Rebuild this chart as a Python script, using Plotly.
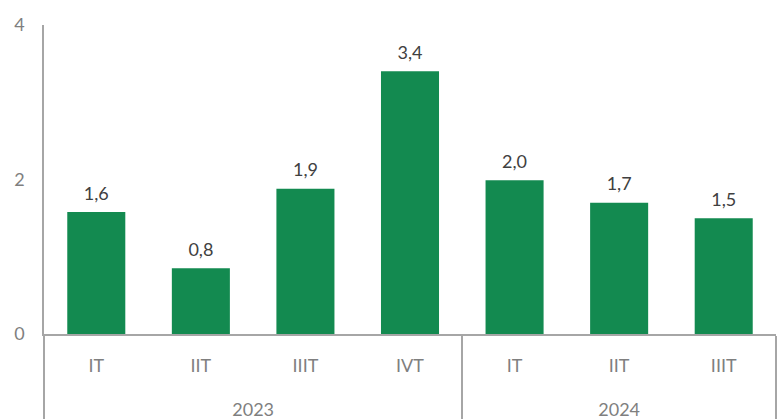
import plotly.graph_objects as go

years = ["2023", "2023", "2023", "2023", "2024", "2024", "2024"]
quarters = ["IT", "IIT", "IIIT", "IVT", "IT", "IIT", "IIIT"]
values = [1.58, 0.85, 1.88, 3.4, 1.99, 1.7, 1.5]
labels = ["1,6", "0,8", "1,9", "3,4", "2,0", "1,7", "1,5"]
y_ticks = [0, 2, 4]

GREEN = "#138A50"
AXIS = "#A6A6A6"
TICK = "#7F7F7F"
VAL = "#404040"
FONT = "Lato, 'Open Sans', sans-serif"

# quarter labels get a tiny second line to open space before the year row
quarter_text = [q + "<br><span style='font-size:1px'> </span>" for q in quarters]

fig = go.Figure()
fig.add_trace(go.Bar(
    x=[years, quarter_text], y=values,
    marker=dict(color=GREEN, line=dict(width=0)),
    width=0.555, hoverinfo="skip",
))
fig.add_trace(go.Scatter(
    x=[years, quarter_text], y=values, mode="markers+text",
    text=labels, textposition="top center",
    marker=dict(size=11, opacity=0),
    textfont=dict(family=FONT, size=18, color=VAL),
    hoverinfo="skip",
))

fig.update_layout(
    width=781, height=419,
    margin=dict(l=44, r=5, t=25, b=85),
    plot_bgcolor="white", paper_bgcolor="white",
    showlegend=False,
    font=dict(family=FONT, size=18, color=TICK),
)
fig.update_xaxes(
    type="multicategory", automargin=False,
    showline=True, linecolor=AXIS, linewidth=1.5,
    showgrid=False, tickson="labels", ticks="outside", ticklen=15,
    tickcolor="rgba(0,0,0,0)",
    showdividers=True, dividercolor=AXIS, dividerwidth=1.5,
    tickfont=dict(family=FONT, size=18, color=TICK),
)
fig.update_yaxes(
    range=[0, 4], tickvals=y_ticks, ticktext=[str(v) for v in y_ticks],
    automargin=False,
    showline=True, linecolor=AXIS, linewidth=1.5,
    showgrid=False, zeroline=False, ticks="",
    ticklabelstandoff=14,
    tickfont=dict(family=FONT, size=18, color=TICK),
)

fig.write_html("out.html", config={"displayModeBar": False},
               post_script="document.body.style.margin='0';")
